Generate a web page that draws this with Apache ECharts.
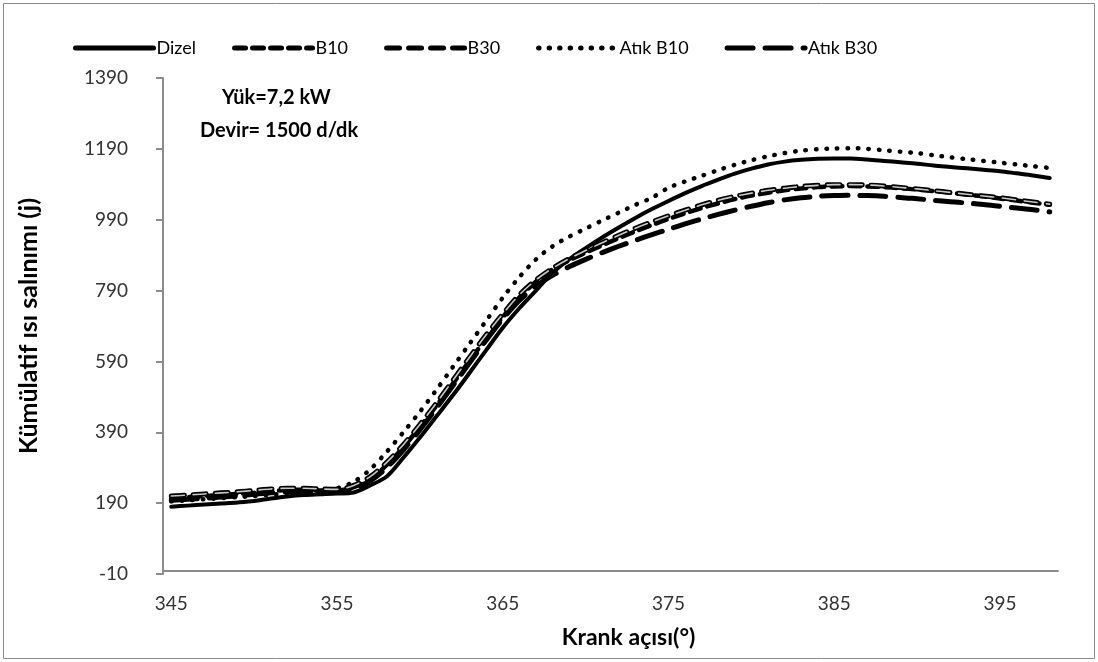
<!DOCTYPE html>
<html><head><meta charset="utf-8">
<script src="https://cdn.jsdelivr.net/npm/echarts@6/dist/echarts.min.js"></script>
<style>html,body{margin:0;padding:0;background:#fff}#c{width:1098px;height:662px}</style>
</head><body><div id="c"></div>
<script>
const angles = [];
for (let a = 345; a <= 398; a++) angles.push(String(a));
const yTicks = [-10, 190, 390, 590, 790, 990, 1190, 1390];
const dizel = [180,183,186,189,192,196,203,209,213,215,217,220,240,265,318,375,435,495,558,622,685,740,790,840,878,910,940,968,995,1020,1043,1065,1085,1103,1120,1134,1146,1154,1159,1162,1163,1163,1160,1156,1152,1148,1143,1139,1135,1131,1127,1121,1115,1108];
const b10 = [203,207,210,213,216,219,224,227,228,226,226,235,258,298,348,405,465,528,592,655,715,770,815,850,875,897,918,938,957,975,992,1008,1023,1036,1048,1058,1066,1073,1078,1082,1084,1085,1084,1082,1079,1075,1071,1066,1061,1056,1050,1044,1038,1032];
const b30 = [210,213,216,219,222,226,230,232,232,230,229,240,265,305,355,412,473,537,602,665,724,778,820,853,880,903,925,946,966,984,1001,1017,1032,1045,1056,1065,1073,1079,1084,1087,1089,1089,1088,1085,1081,1077,1072,1067,1062,1057,1052,1046,1040,1034];
const atikB10 = [195,198,201,204,207,210,214,218,221,223,232,250,285,335,390,448,510,575,640,705,770,828,878,915,942,965,988,1010,1032,1052,1080,1098,1114,1130,1145,1158,1169,1178,1185,1189,1191,1192,1190,1186,1182,1178,1172,1166,1161,1156,1151,1146,1141,1136];
const atikB30 = [198,201,204,207,211,215,219,222,224,224,224,232,253,290,340,397,458,522,586,650,710,762,803,833,857,878,897,915,932,948,963,978,992,1005,1017,1028,1038,1046,1052,1056,1058,1059,1058,1056,1053,1049,1045,1041,1037,1033,1028,1023,1018,1012];

const FONT = "Lato, 'Open Sans', sans-serif";
const chart = echarts.init(document.getElementById('c'), null, {renderer: 'canvas'});
const ln = (name, data, width, type, color, z) => ({
  name, type: 'line', data, symbol: 'none', showSymbol: false, smooth: 0.3, z: z || 2,
  lineStyle: {color: color || '#000', width, type, cap: 'round', join: 'round'},
  itemStyle: {color: color || '#000'}
});
chart.setOption({
  animation: false,
  backgroundColor: '#fff',
  graphic: [
    {type: 'rect', shape: {x: 3.5, y: 3.5, width: 1091, height: 655}, style: {fill: 'none', stroke: '#8a8a8a', lineWidth: 1}, silent: true},
    {type: 'text', left: 222, top: 88, style: {text: 'Yük=7,2 kW', font: "bold 20px " + FONT, fill: '#000'}},
    {type: 'text', left: 200, top: 121, style: {text: 'Devir= 1500 d/dk', font: "bold 20px " + FONT, fill: '#000'}}
  ],
  legend: {
    top: 34, left: 68, itemWidth: 78, itemHeight: 16, itemGap: 36,
    data: ['Dizel', 'B10', 'B30', 'Atık B10', 'Atık B30'],
    itemStyle: {opacity: 0},
    lineStyle: {width: 5},
    textStyle: {fontFamily: FONT, fontSize: 18, color: '#000', padding: [0, 0, 0, -2]}
  },
  grid: {left: 163, right: 40, top: 78, bottom: 88},
  xAxis: {
    type: 'category', data: angles, boundaryGap: true,
    name: 'Krank açısı(°)', nameLocation: 'middle', nameGap: 52,
    nameTextStyle: {fontFamily: FONT, fontSize: 23, fontWeight: 'bold', color: '#000', padding: [0, 0, 0, 36]},
    axisLine: {lineStyle: {color: '#8c8c8c', width: 2}},
    axisTick: {show: false},
    axisLabel: {interval: 9, fontFamily: FONT, fontSize: 19, color: '#333', margin: 20}
  },
  yAxis: {
    type: 'value', min: yTicks[0], max: yTicks[yTicks.length - 1], interval: 200,
    name: 'Kümülatif ısı salınımı (j)', nameLocation: 'middle', nameGap: 122, nameRotate: 90,
    nameTextStyle: {fontFamily: FONT, fontSize: 25, fontWeight: 'bold', color: '#000'},
    axisLine: {show: true, lineStyle: {color: '#8c8c8c', width: 2}},
    axisTick: {show: true, length: 7, lineStyle: {color: '#8c8c8c', width: 2}},
    splitLine: {show: false},
    axisLabel: {fontFamily: FONT, fontSize: 19, color: '#333', margin: 35, formatter: v => String(v)}
  },
  series: [
    ln('Dizel', dizel, 4, 'solid'),
    ln('B10', b10, 4.5, [11, 7]),
    ln('B30', b30, 5, [13, 9]),
    Object.assign(ln('B30 iç', b30, 1.6, [13, 9], '#c8c8c8', 3), {legendHoverLink: false}),
    ln('Atık B10', atikB10, 4.5, [0.5, 10]),
    ln('Atık B30', atikB30, 5, [26, 12])
  ]
});
</script></body></html>
